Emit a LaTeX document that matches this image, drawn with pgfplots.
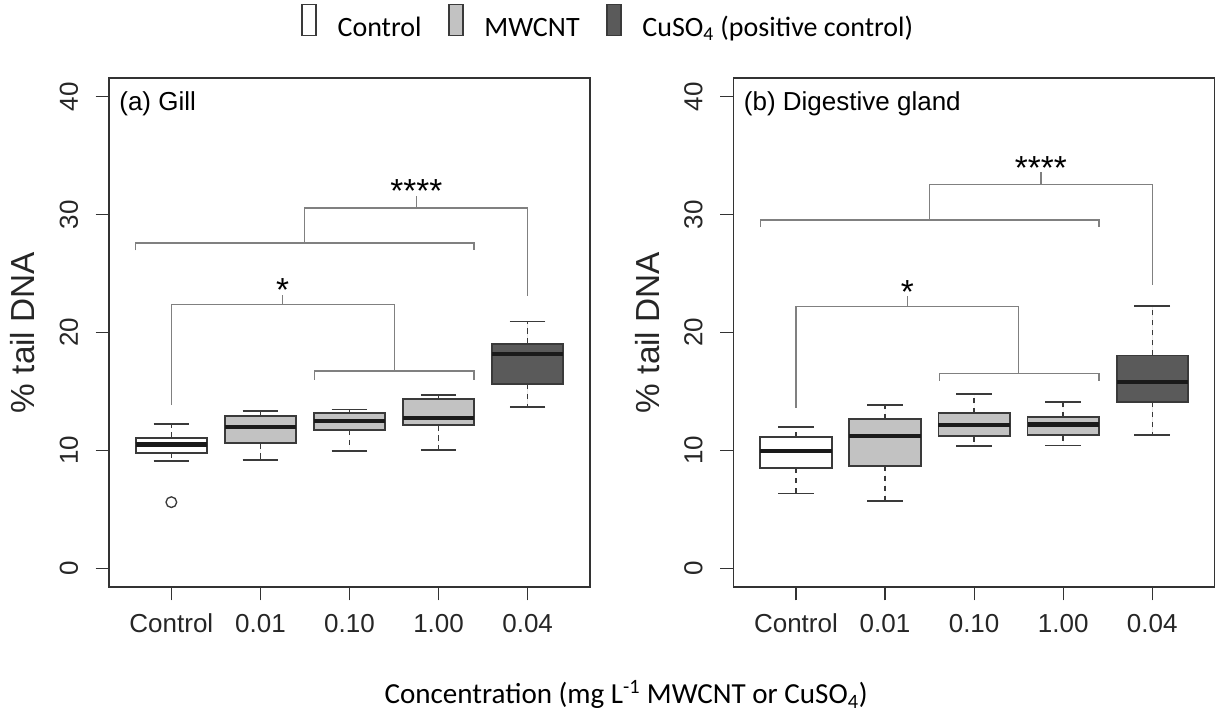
\documentclass[border=0pt]{standalone}
\usepackage{fontspec}
\setmainfont{Liberation Sans}
\newfontfamily\carlito{Carlito}
\usepackage{pgfplots}
\pgfplotsset{compat=1.18}
\usepgfplotslibrary{statistics}
\definecolor{boxc}{HTML}{3A3A3A}
\definecolor{axc}{HTML}{333333}
\definecolor{brc}{HTML}{808080}
\definecolor{mwc}{HTML}{C2C2C2}
\definecolor{cuc}{HTML}{5A5A5A}
\definecolor{medc}{HTML}{1A1A1A}

\pgfplotsset{
  boxplot/draw/lower whisker/.code={%
    \draw[draw=boxc, line width=1.1pt, dash pattern=on 4pt off 3.5pt]
      (boxplot cs:\pgfplotsboxplotvalue{lower quartile}) -- (boxplot cs:\pgfplotsboxplotvalue{lower whisker});
    \draw[draw=boxc, line width=1.3pt, solid]
      (boxplot whisker cs:\pgfplotsboxplotvalue{lower whisker},0) -- (boxplot whisker cs:\pgfplotsboxplotvalue{lower whisker},1);
  },
  boxplot/draw/upper whisker/.code={%
    \draw[draw=boxc, line width=1.1pt, dash pattern=on 4pt off 3.5pt]
      (boxplot cs:\pgfplotsboxplotvalue{upper quartile}) -- (boxplot cs:\pgfplotsboxplotvalue{upper whisker});
    \draw[draw=boxc, line width=1.3pt, solid]
      (boxplot whisker cs:\pgfplotsboxplotvalue{upper whisker},0) -- (boxplot whisker cs:\pgfplotsboxplotvalue{upper whisker},1);
  },
  panel/.style={
    scale only axis, width=360.75pt, height=381.75pt, clip=false,
    xmin=0.3, xmax=5.7, ymin=-1.6, ymax=41.6,
    xtick={1,2,3,4,5}, xticklabels={Control,0.01,0.10,1.00,0.04},
    ytick={0,10,20,30,40},
    tick pos=left, tick align=outside, major tick length=10pt,
    axis line style={draw=axc, line width=0.9pt},
    every tick/.style={draw=axc, line width=0.9pt},
    /pgf/number format/assume math mode=true,
    ticklabel style={font=\fontsize{19.5}{22}\selectfont, text=black!85},
    yticklabel style={rotate=90, anchor=south, inner sep=0pt},
    xticklabel style={anchor=north, inner sep=0pt},
    yticklabel shift=13pt, xticklabel shift=10pt,
    ylabel={\% tail DNA},
    ylabel style={at={(axis description cs:-0.179,0.5)}, anchor=center, font=\fontsize{25}{28}\selectfont, text=black!85},
    boxplot/draw direction=y,
    boxplot/box extend=0.8,
    boxplot/whisker extend=0.4,
    boxplot/every median/.style={line width=3.2pt, draw=medc},
  },
  brk/.style={draw=brc, line width=1.1pt, forget plot, mark=none},
}
% position, lower whisker, lower quartile, median, upper quartile, upper whisker, fill
\newcommand\bx[7]{%
  \addplot[forget plot, draw=boxc, fill=#7, line width=1.4pt, solid, mark=o, mark size=4pt,
    mark options={draw=boxc, fill=none, line width=1pt},
    boxplot prepared={draw position=#1, lower whisker=#2, lower quartile=#3,
      median=#4, upper quartile=#5, upper whisker=#6}]}

\begin{document}
\begin{tikzpicture}
\path[use as bounding box] (0pt,0pt) rectangle (911.25pt,-536.25pt);

% ---------- (a) Gill ----------
\begin{axis}[panel, at={(81.75pt,-440.25pt)}, anchor=south west,
  legend style={at={(axis description cs:1.036,1.112)}, anchor=center, draw=none, fill=none,
    font=\carlito\fontsize{21}{24}\selectfont, legend columns=3,
    nodes={inner sep=0pt},
    /tikz/every odd column/.append style={column sep=15.5pt},
    /tikz/every even column/.append style={column sep=20pt}},
  legend cell align=left]
\addlegendimage{legend image code/.code={\draw[draw=boxc, fill=white, line width=1.1pt] (0pt,-7pt) rectangle (10.5pt,16.5pt);}}
\addlegendentry{\strut Control}
\addlegendimage{legend image code/.code={\draw[draw=boxc, fill=mwc, line width=1.1pt] (0pt,-7pt) rectangle (10.5pt,16.5pt);}}
\addlegendentry{\strut MWCNT}
\addlegendimage{legend image code/.code={\draw[draw=boxc, fill=cuc, line width=1.1pt] (0pt,-7pt) rectangle (10.5pt,16.5pt);}}
\addlegendentry{\strut CuSO\textsubscript{4} (positive control)}

\bx{1}{9.07}{9.80}{10.50}{11.07}{12.25}{white} coordinates {(0,5.6)};
\bx{2}{9.20}{10.60}{12.00}{12.90}{13.36}{mwc} coordinates {};
\bx{3}{9.94}{11.72}{12.46}{13.20}{13.47}{mwc} coordinates {};
\bx{4}{10.03}{12.12}{12.77}{14.38}{14.69}{mwc} coordinates {};
\bx{5}{13.67}{15.65}{18.16}{19.04}{20.93}{cuc} coordinates {};

\addplot[brk] coordinates {(0.6,26.97) (0.6,27.6) (4.4,27.6) (4.4,26.97)};
\addplot[brk] coordinates {(2.494,27.6) (2.494,30.57) (5.0,30.57) (5.0,23.1)};
\addplot[brk] coordinates {(3.75,30.57) (3.75,31.55)};
\addplot[brk] coordinates {(1,13.84) (1,22.37) (3.506,22.37) (3.506,16.72)};
\addplot[brk] coordinates {(2.61,16.0) (2.61,16.72) (4.4,16.72) (4.4,16.0)};
\addplot[brk] coordinates {(2.25,22.37) (2.25,23.2)};
\node[anchor=base, font=\fontsize{25}{28}\selectfont] at (axis cs:3.75,31.05) {****};
\node[anchor=base, font=\fontsize{25}{28}\selectfont] at (axis cs:2.25,22.65) {*};

\node[anchor=west, inner sep=0pt, font=\fontsize{19.5}{22}\selectfont] at (axis description cs:0.021,0.950) {(a) Gill};

\node[font=\carlito\fontsize{21.8}{24}\selectfont] at (axis description cs:1.075,-0.212)
  {Concentration (mg L\textsuperscript{-1} MWCNT or CuSO\textsubscript{4})};
\end{axis}

% ---------- (b) Digestive gland ----------
\begin{axis}[panel, at={(550.2pt,-440.25pt)}, anchor=south west]
\bx{1}{6.33}{8.50}{9.97}{11.10}{11.97}{white} coordinates {};
\bx{2}{5.68}{8.70}{11.21}{12.63}{13.87}{mwc} coordinates {};
\bx{3}{10.34}{11.19}{12.12}{13.14}{14.77}{mwc} coordinates {};
\bx{4}{10.40}{11.27}{12.20}{12.80}{14.12}{mwc} coordinates {};
\bx{5}{11.33}{14.12}{15.82}{18.05}{22.23}{cuc} coordinates {};

\addplot[brk] coordinates {(0.6,28.95) (0.6,29.55) (4.4,29.55) (4.4,28.95)};
\addplot[brk] coordinates {(2.5,29.55) (2.5,32.57) (5.0,32.57) (5.0,24.0)};
\addplot[brk] coordinates {(3.75,32.57) (3.75,33.6)};
\addplot[brk] coordinates {(1,13.6) (1,22.2) (3.5,22.2) (3.5,16.5)};
\addplot[brk] coordinates {(2.61,15.9) (2.61,16.5) (4.4,16.5) (4.4,15.9)};
\addplot[brk] coordinates {(2.25,22.2) (2.25,23.1)};
\node[anchor=base, font=\fontsize{25}{28}\selectfont] at (axis cs:3.75,33.0) {****};
\node[anchor=base, font=\fontsize{25}{28}\selectfont] at (axis cs:2.25,22.45) {*};

\node[anchor=west, inner sep=0pt, font=\fontsize{19.5}{22}\selectfont] at (axis description cs:0.021,0.950) {(b) Digestive gland};
\end{axis}
\end{tikzpicture}
\end{document}
